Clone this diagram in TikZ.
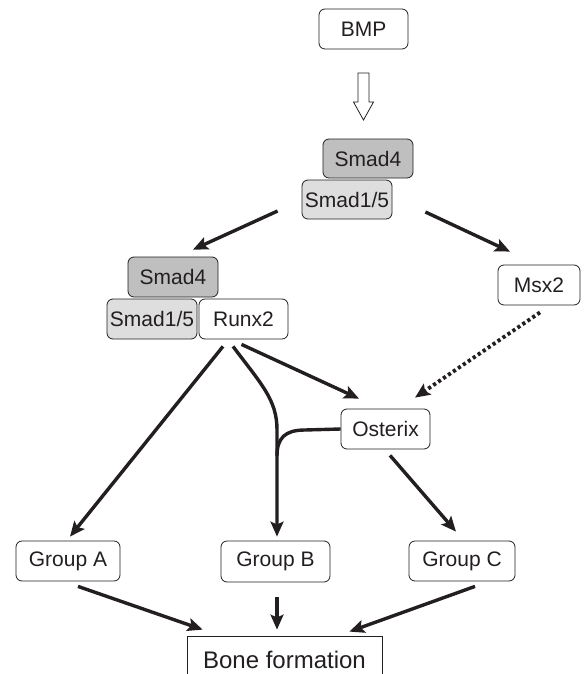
\documentclass[tikz,border=0pt]{standalone}
\usepackage{fontspec}
\setmainfont{Liberation Sans}
\usetikzlibrary{arrows.meta,calc}
\definecolor{ink}{RGB}{35,31,32}
\tikzset{
  box/.style={draw=ink, line width=0.8pt, rounded corners=6pt, inner sep=0pt,
    font=\fontsize{21}{25}\selectfont, text=ink, fill=white},
  dark/.style={box, fill=black!25},
  light/.style={box, fill=black!13},
  arr/.style={draw=ink, line width=3.4pt, -{Stealth[length=15pt,width=13pt,inset=3pt]}},
  dotarr/.style={draw=ink, line width=3.8pt, dash pattern=on 3.2pt off 2.8pt, -{Stealth[length=15pt,width=13pt,inset=3pt]}},
  plain/.style={draw=ink, line width=3.4pt},
}
\begin{document}
\begin{tikzpicture}[x=1pt,y=-1pt]
\clip (0,0) rectangle (587,674);
\fill[white] (0,0) rectangle (587,674);
% nodes
\node[box, minimum width=89pt, minimum height=40pt] (BMP) at (363.5,29) {BMP};
\node[dark, minimum width=90pt, minimum height=39pt] (S4a) at (368,158.5) {Smad4};
\node[light, minimum width=90pt, minimum height=39pt] (S15a) at (347,199.5) {Smad1/5};
\node[dark, minimum width=90pt, minimum height=40pt] (S4b) at (173,277) {Smad4};
\node[light, minimum width=90pt, minimum height=40pt] (S15b) at (152,319) {Smad1/5};
\node[box, minimum width=89pt, minimum height=40pt] (Runx2) at (243.5,319) {Runx2};
\node[box, minimum width=82pt, minimum height=40pt] (Msx2) at (539,285) {Msx2};
\node[box, minimum width=89pt, minimum height=40pt] (Osterix) at (385.5,429) {Osterix};
\node[box, minimum width=104pt, minimum height=40pt] (GA) at (68,561) {Group A};
\node[box, minimum width=109pt, minimum height=41pt] (GB) at (275.5,561.5) {Group B};
\node[box, minimum width=106pt, minimum height=40pt] (GC) at (462,561) {Group C};
\node[draw=ink, line width=0.8pt, inner sep=0pt, minimum width=195pt, minimum height=52pt,
  font=\fontsize{24}{28}\selectfont, text=ink, text depth=0pt] (Bone) at (284.5,662) {\raisebox{4pt}{Bone formation}};
% hollow arrow BMP -> Smad
\draw[ink, line width=0.8pt, fill=white, line join=miter]
  (358,73) -- (369,73) -- (369,102) -- (373.5,102) -- (363.5,120) -- (353.5,102) -- (358,102) -- cycle;
% connectors
\draw[arr] ([xshift=-24pt,yshift=-11.5pt]S15a.west) -- ([xshift=20pt,yshift=7pt]S4b.north);
\draw[arr] ([xshift=33pt,yshift=-12.5pt]S15a.east) -- ([xshift=-29pt,yshift=13pt]Msx2.north);
\draw[arr] ([xshift=-20.5pt,yshift=-7pt]Runx2.south) -- ([xshift=2pt,yshift=4pt]GA.north);
\draw[arr] ([xshift=-10.5pt,yshift=-7pt]Runx2.south) .. controls (262,385) and (277,400) .. (277,430) -- ([xshift=1.5pt,yshift=4pt]GB.north);
\draw[arr] ([xshift=-2pt,yshift=-5pt]Runx2.south) -- ([xshift=-26.5pt,yshift=10pt]Osterix.north);
\draw[dotarr] ([xshift=1pt,yshift=-7pt]Msx2.south) -- ([xshift=29.5pt,yshift=11pt]Osterix.north);
\draw[arr] ([xshift=4.5pt,yshift=-6pt]Osterix.south) -- ([xshift=-6pt,yshift=9pt]GC.north);
\draw[plain] (Osterix.west) -- (305,430) .. controls (285,430) and (277,438) .. (277,456);
\draw[arr] ([xshift=10pt,yshift=-5pt]GA.south) -- ([xshift=16pt,yshift=6pt]Bone.north west);
\draw[arr] ([xshift=1.5pt,yshift=-15pt]GB.south) -- ([xshift=-7.5pt,yshift=6pt]Bone.north);
\draw[arr] ([xshift=13pt,yshift=-5pt]GC.south) -- ([xshift=-33pt,yshift=4pt]Bone.north east);
\end{tikzpicture}
\end{document}
